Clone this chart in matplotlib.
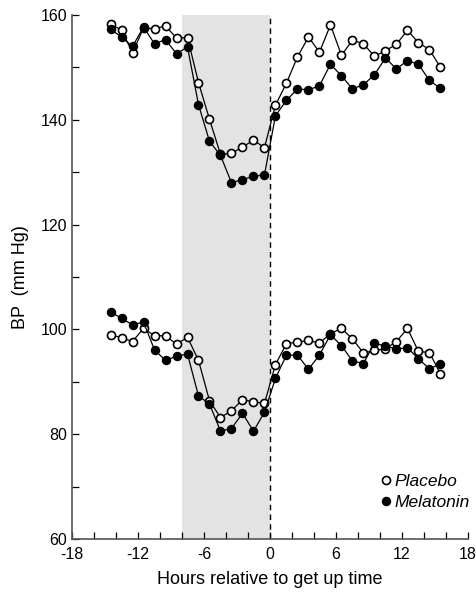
import numpy as np
import matplotlib
matplotlib.use("Agg")
import matplotlib.pyplot as plt

plt.rcParams["font.family"] = ["Liberation Sans", "DejaVu Sans"]
plt.rcParams["axes.unicode_minus"] = False

# hours relative to get up time (half-hour bins)
hours = np.arange(-14.5, 16.0, 1.0)

# systolic BP
sbp_placebo = [158.3, 157.1, 152.8, 157.5, 157.4, 157.9, 155.6, 155.7,
               147.1, 140.1, 133.4, 133.6, 134.8, 136.1, 134.7,
               142.8, 147.0, 152.0, 155.8, 152.9, 158.1, 152.3, 155.2,
               154.5, 152.1, 153.2, 154.4, 157.1, 154.7, 153.4, 150.0]
sbp_melatonin = [157.3, 155.8, 154.0, 157.7, 154.5, 155.3, 152.6, 153.9,
                 142.9, 135.9, 133.2, 128.0, 128.6, 129.2, 129.5,
                 140.8, 143.7, 145.9, 145.7, 146.5, 150.6, 148.4, 145.9,
                 146.7, 148.6, 151.8, 149.7, 151.3, 150.6, 147.5, 146.0]

# diastolic BP
dbp_placebo = [99.0, 98.4, 97.7, 100.2, 98.8, 98.8, 97.2, 98.5,
               94.1, 86.4, 83.2, 84.5, 86.6, 86.2, 85.9,
               93.3, 97.3, 97.6, 97.9, 97.4, 99.2, 100.2, 98.2,
               95.5, 96.0, 96.3, 97.7, 100.2, 95.8, 95.6, 91.5]
dbp_melatonin = [103.4, 102.1, 100.9, 101.4, 96.1, 94.1, 94.9, 95.3,
                 87.3, 85.8, 80.6, 81.1, 84.0, 80.6, 84.2,
                 90.7, 95.1, 95.1, 92.4, 95.1, 99.0, 96.9, 94.0,
                 93.5, 97.4, 96.8, 96.3, 96.5, 94.4, 92.5, 93.4]

sleep_start, sleep_end = -8, 0

fig = plt.figure(figsize=(4.77, 5.99), dpi=100)
ax = fig.add_axes([0.151, 0.100, 0.830, 0.875])

ax.axvspan(sleep_start, sleep_end, color="#e3e3e3", zorder=0, lw=0)
ax.axvline(0, color="black", ls=(0, (4, 3)), lw=1.0, zorder=1)

open_kw = dict(color="black", lw=0.9, marker="o", markersize=5.8,
               markerfacecolor="white", markeredgecolor="black", markeredgewidth=1.2)
fill_kw = dict(color="black", lw=0.9, marker="o", markersize=5.8,
               markerfacecolor="black", markeredgecolor="black")

ax.plot(hours, sbp_placebo, zorder=3, **open_kw)
ax.plot(hours, sbp_melatonin, zorder=4, **fill_kw)
ax.plot(hours, dbp_placebo, zorder=3, label="Placebo", **open_kw)
ax.plot(hours, dbp_melatonin, zorder=4, label="Melatonin", **fill_kw)

ax.set_xlim(-18, 18)
ax.set_ylim(60, 160)
ax.set_xticks(np.arange(-18, 19, 6))
ax.set_xticks(np.arange(-18, 19, 2), minor=True)
ax.set_yticks(np.arange(60, 161, 20))
ax.set_yticks(np.arange(60, 161, 10), minor=True)
ax.tick_params(which="both", direction="in", length=5, width=0.9,
               labelsize=11.5, colors="black")
ax.tick_params(axis="x", pad=6)

for side in ("top", "right"):
    ax.spines[side].set_visible(False)
for side in ("left", "bottom"):
    ax.spines[side].set_color("#555555")
    ax.spines[side].set_linewidth(1.2)

ax.set_xlabel("Hours relative to get up time", fontsize=13, labelpad=6)
ax.set_ylabel("BP  (mm Hg)", fontsize=13, labelpad=8)

leg = ax.legend(loc="lower right", bbox_to_anchor=(1.045, 0.025), frameon=False,
                handlelength=0.6, handletextpad=0.2, labelspacing=0.35,
                prop=dict(style="italic", size=12.5))
for line in leg.get_lines():
    line.set_linestyle("none")

fig.savefig("out.png", dpi=100)
